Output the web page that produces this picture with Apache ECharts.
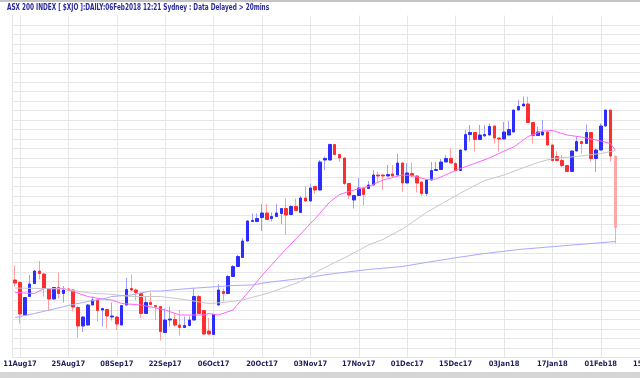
<!DOCTYPE html>
<html>
<head>
<meta charset="utf-8">
<script src="https://cdn.jsdelivr.net/npm/echarts@6/dist/echarts.min.js"></script>
<style>
  html, body { margin: 0; padding: 0; background: #ffffff; }
  #chart { width: 640px; height: 378px; }
</style>
</head>
<body>
<div id="chart"></div>
<script>
// trading days, 10Aug17 .. 19Feb18 (axis runs past the last candle)
const dates = [
  '10Aug17','11Aug17','14Aug17','15Aug17','16Aug17','17Aug17','18Aug17','21Aug17','22Aug17','23Aug17',
  '24Aug17','25Aug17','28Aug17','29Aug17','30Aug17','31Aug17','01Sep17','04Sep17','05Sep17','06Sep17',
  '07Sep17','08Sep17','11Sep17','12Sep17','13Sep17','14Sep17','15Sep17','18Sep17','19Sep17','20Sep17',
  '21Sep17','22Sep17','25Sep17','26Sep17','27Sep17','28Sep17','29Sep17','02Oct17','03Oct17','04Oct17',
  '05Oct17','06Oct17','09Oct17','10Oct17','11Oct17','12Oct17','13Oct17','16Oct17','17Oct17','18Oct17',
  '19Oct17','20Oct17','23Oct17','24Oct17','25Oct17','26Oct17','27Oct17','30Oct17','31Oct17','01Nov17',
  '02Nov17','03Nov17','06Nov17','07Nov17','08Nov17','09Nov17','10Nov17','13Nov17','14Nov17','15Nov17',
  '16Nov17','17Nov17','20Nov17','21Nov17','22Nov17','23Nov17','24Nov17','27Nov17','28Nov17','29Nov17',
  '30Nov17','01Dec17','04Dec17','05Dec17','06Dec17','07Dec17','08Dec17','11Dec17','12Dec17','13Dec17',
  '14Dec17','15Dec17','18Dec17','19Dec17','20Dec17','21Dec17','22Dec17','27Dec17','28Dec17','29Dec17',
  '02Jan18','03Jan18','04Jan18','05Jan18','08Jan18','09Jan18','10Jan18','11Jan18','12Jan18','15Jan18',
  '16Jan18','17Jan18','18Jan18','19Jan18','22Jan18','23Jan18','24Jan18','25Jan18','29Jan18','30Jan18',
  '31Jan18','01Feb18','02Feb18','05Feb18','06Feb18','07Feb18','08Feb18','09Feb18','12Feb18','13Feb18',
  '14Feb18','15Feb18','16Feb18','19Feb18'
];

const openPx = [
  5779,5774,5709,5746,5772,5797,5791,5761,5741,5764, 5752,5761,5759,5724,5687,5689,5729,5739,5719,5720,
  5705,5705,5689,5729,5762,5759,5752,5712,5734,5728, 5726,5674,5699,5700,5689,5684,5688,5699,5746,5718,
  5677,5670,5729,5756,5752,5786,5806,5824,5857,5896, 5896,5904,5913,5902,5906,5912,5922,5910,5926,5914,
  5943,5937,5966,5959,6019,6019,6050,6030,6023,5972, 5939,5948,5962,5962,5969,5989,5989,5987,5991,5989,
  6013,5973,5992,5987,5975,5952,5979,5998,6000,6015, 6022,6012,5998,6039,6070,6074,6060,6067,6069,6087,
  6063,6061,6069,6075,6119,6127,6131,6094,6068,6069, 6075,6049,6026,6018,6008,5996,6037,6056,6052,6074,
  6022,6039,6087,6119,6027
];
const closePx = [
  5773,5711,5744,5771,5797,5792,5762,5741,5764,5752, 5759,5759,5725,5687,5705,5729,5739,5718,5722,5707,
  5707,5691,5728,5760,5759,5754,5712,5734,5730,5726, 5676,5699,5701,5689,5684,5688,5699,5746,5712,5671,
  5671,5710,5759,5752,5786,5806,5826,5857,5897,5898, 5902,5913,5900,5906,5913,5922,5909,5926,5918,5943,
  5937,5963,5959,6015,6022,6050,6030,6023,5972,5949, 5948,5963,5950,5969,5989,5987,5987,5990,5987,6013,
  5973,5993,5987,5973,5952,5979,5998,6000,6015,6022, 6013,5998,6039,6070,6074,6060,6069,6070,6086,6063,
  6061,6075,6080,6119,6126,6131,6094,6068,6075,6075, 6049,6018,6018,6008,5996,6037,6056,6052,6074,6022,
  6039,6087,6119,6027,5884
];
const lowPx = [
  5766,5692,5708,5745,5772,5780,5746,5717,5740,5742, 5734,5757,5716,5664,5675,5688,5729,5696,5686,5682,
  5698,5679,5688,5728,5757,5739,5703,5712,5729,5699, 5658,5673,5686,5686,5668,5683,5686,5698,5711,5670,
  5669,5670,5728,5736,5751,5785,5805,5824,5856,5895, 5895,5877,5899,5896,5905,5891,5869,5910,5917,5914,
  5936,5936,5952,5958,5999,6018,6029,6015,5969,5941, 5922,5947,5929,5962,5968,5976,5959,5986,5986,5988,
  5955,5973,5986,5954,5947,5947,5978,5997,6000,6015, 6013,5997,5997,6038,6056,6036,6060,6066,6068,6052,
  6036,6060,6068,6075,6118,6126,6094,6052,6067,6068, 6048,6016,6017,6004,5995,5995,6036,6032,6052,6016,
  5995,6038,6086,6016,5852
];
const highPx = [
  5808,5777,5745,5789,5799,5817,5793,5763,5765,5794, 5767,5763,5761,5727,5707,5731,5746,5742,5723,5721,
  5734,5707,5729,5783,5790,5762,5755,5746,5754,5729, 5727,5722,5726,5712,5719,5706,5706,5764,5749,5719,
  5703,5711,5771,5762,5789,5809,5829,5863,5899,5912, 5912,5931,5931,5914,5931,5923,5942,5929,5942,5947,
  5966,5972,5967,6019,6026,6052,6051,6031,6024,5973, 5949,5983,5963,5977,5999,5996,5990,6009,6009,6032,
  6014,6013,6013,5988,5976,5980,6015,6015,6021,6029, 6042,6015,6040,6079,6089,6074,6089,6089,6092,6088,
  6063,6095,6097,6119,6139,6146,6146,6095,6086,6099, 6076,6050,6036,6029,6008,6038,6066,6056,6090,6074,
  6042,6092,6119,6119,6027
];

// moving averages: [day index, value]
const maShort = [
  [0,5754],[4,5752],[6,5762],[10,5762],[12,5756],[15,5746],[18,5741],[20,5739],[22,5732],[26,5729],
  [29,5723],[31,5719],[34,5709],[39,5709],[40,5712],[42,5709],[45,5719],[48,5753],[51,5788],[55,5831],
  [58,5861],[62,5902],[65,5935],[67,5950],[70,5959],[73,5966],[76,5979],[80,5989],[82,5988],[85,5980],
  [87,5981],[91,5998],[94,6009],[98,6023],[101,6037],[103,6045],[106,6066],[109,6077],[111,6078],[114,6069],
  [117,6065],[121,6057],[123,6052],[124,6039]
];
const maMid = [
  [0,5763],[10,5761],[16,5752],[19,5751],[24,5746],[30,5746],[35,5740],[40,5732],[43,5734],[47,5739],
  [52,5752],[55,5762],[59,5776],[62,5794],[66,5814],[69,5828],[73,5849],[76,5860],[80,5881],[85,5914],
  [88,5931],[93,5958],[97,5978],[101,5989],[104,6000],[108,6014],[111,6022],[116,6026],[121,6032],[124,6038]
];
const maLong = [
  [0,5704],[4,5712],[11,5728],[15,5736],[18,5741],[20,5746],[24,5749],[28,5757],[30,5757],[36,5762],
  [45,5768],[49,5769],[52,5774],[59,5782],[66,5792],[73,5800],[80,5806],[83,5811],[90,5822],[97,5832],
  [104,5840],[114,5848],[124,5856]
];

const titleText = 'ASX 200 INDEX [ $XJO ]:DAILY:06Feb2018 12:21 Sydney : Data Delayed > 20mins';

const last = openPx.length - 1;
const liveStyle = { color0: '#ffa6a6', borderColor0: '#ffa6a6' };

const wicks = openPx.map((o, i) => {
  const item = { value: [o, closePx[i], lowPx[i], highPx[i]] };
  if (i === last) item.itemStyle = liveStyle;
  return item;
});
const bodies = openPx.map((o, i) => {
  const c = closePx[i];
  const item = { value: [o, c, Math.min(o, c), Math.max(o, c)] };
  if (i === last) item.itemStyle = liveStyle;
  return item;
});

const isLabelDay = (idx) => idx % 10 === 1;
const labelFont = '"DejaVu Sans Condensed", sans-serif';

const chart = echarts.init(document.getElementById('chart'));
chart.setOption({
  animation: false,
  backgroundColor: '#ffffff',
  grid: {
    left: 12.74,
    top: 15.5,
    width: 648.56,   // 134 days wide, runs off the right edge
    height: 342,
    outerBoundsMode: 'none'
  },
  xAxis: {
    type: 'category',
    data: dates,
    boundaryGap: true,
    axisLine: { show: true, lineStyle: { color: '#e4e4e4' } },
    axisTick: { show: false },
    axisLabel: {
      interval: isLabelDay,
      margin: 3,
      fontSize: 7.5,
      fontWeight: 'bold',
      color: '#1e1e5a',
      fontFamily: labelFont
    },
    splitLine: {
      show: true,
      interval: isLabelDay,
      alignWithLabel: true,
      lineStyle: { color: '#e6e6e6', width: 1 }
    }
  },
  yAxis: {
    type: 'value',
    min: 5624,
    max: 6308,
    interval: 19,
    axisLine: { show: true, lineStyle: { color: '#e4e4e4' } },
    axisTick: { show: false },
    axisLabel: { show: false },
    splitLine: { show: true, showMaxLine: false, lineStyle: { color: '#e6e6e6', width: 1 } }
  },
  series: [
    {
      name: 'range',
      type: 'candlestick',
      data: wicks,
      barWidth: 1,
      z: 2,
      itemStyle: {
        color: '#9e9eff', color0: '#ff9e9e',
        borderColor: '#9e9eff', borderColor0: '#ff9e9e',
        borderWidth: 1
      }
    },
    {
      name: 'body',
      type: 'candlestick',
      data: bodies,
      barWidth: 3,
      z: 3,
      itemStyle: {
        color: '#2d2dff', color0: '#ff2d2d',
        borderColor: '#2d2dff', borderColor0: '#ff2d2d',
        borderWidth: 1
      }
    },
    {
      name: 'MA short', type: 'line', data: maShort, showSymbol: false, z: 4,
      lineStyle: { color: '#ff66ff', width: 1 }
    },
    {
      name: 'MA mid', type: 'line', data: maMid, showSymbol: false, z: 4,
      lineStyle: { color: '#c8c8c8', width: 1 }
    },
    {
      name: 'MA long', type: 'line', data: maLong, showSymbol: false, z: 4,
      lineStyle: { color: '#a9a9ff', width: 1 }
    }
  ],
  graphic: [
    { type: 'rect', shape: { x: 0, y: 0, width: 640, height: 2 }, style: { fill: '#c4c4c4' } },
    { type: 'rect', shape: { x: 0, y: 372, width: 640, height: 6 }, style: { fill: '#d6d6d6' } },
    {
      type: 'text', left: 7, top: 4, scaleX: 0.8, originX: 0,
      style: {
        text: titleText,
        font: 'bold 8px ' + labelFont,
        fill: '#2a2aa0'
      }
    }
  ]
});
</script>
</body>
</html>
